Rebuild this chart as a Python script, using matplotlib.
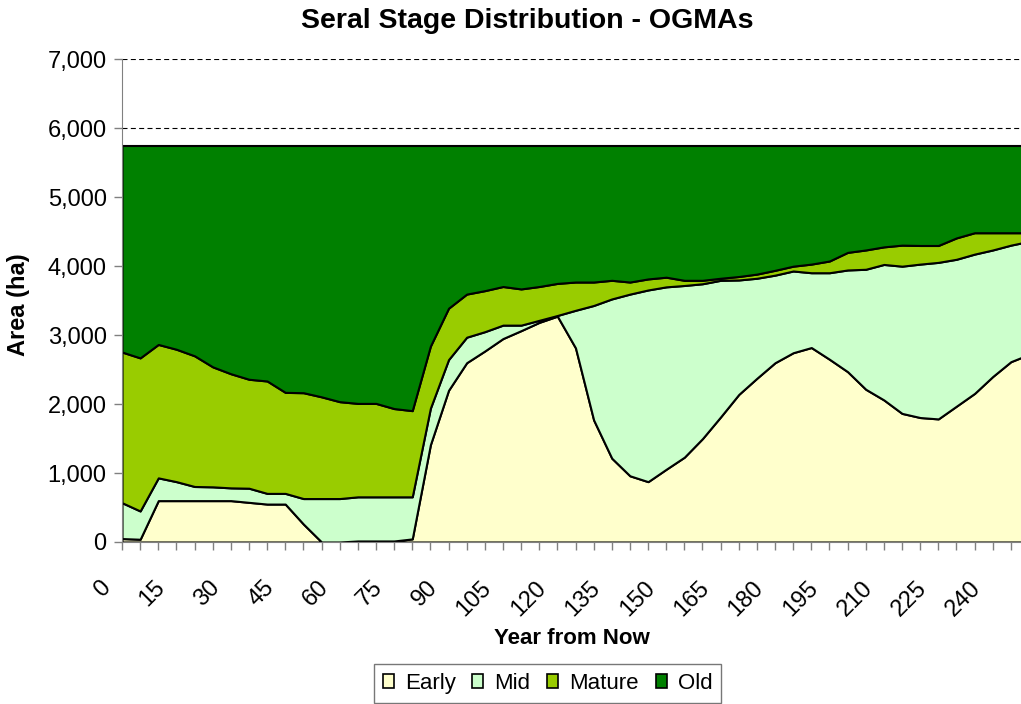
import numpy as np
import matplotlib
matplotlib.use("Agg")
import matplotlib.pyplot as plt
from matplotlib.patches import Patch
from matplotlib.ticker import FuncFormatter, MultipleLocator
from matplotlib.transforms import ScaledTranslation

plt.rcParams['font.family'] = ['Liberation Sans', 'DejaVu Sans']

# years from now, one value every 5 years
years = list(range(0, 255, 5))

early = [50, 40, 600, 600, 600, 600, 600, 575, 550, 550,
         260, 0, 0, 15, 15, 15, 45, 1410, 2200, 2600,
         2770, 2950, 3065, 3185, 3275, 2815, 1770, 1215, 960, 875,
         1055, 1230, 1500, 1815, 2140, 2375, 2600, 2745, 2820, 2650,
         2470, 2215, 2060, 1865, 1805, 1785, 1970, 2155, 2400, 2615,
         2720]
mid = [520, 410, 330, 275, 205, 200, 185, 205, 155, 155,
       370, 630, 630, 640, 640, 640, 610, 530, 445, 370,
       280, 195, 80, 30, 10, 545, 1660, 2310, 2635, 2780,
       2645, 2490, 2245, 1980, 1660, 1450, 1270, 1185, 1085, 1255,
       1475, 1740, 1965, 2135, 2225, 2270, 2130, 2020, 1835, 1690,
       1640]
mature = [2185, 2220, 1935, 1920, 1895, 1740, 1655, 1580, 1630, 1465,
          1535, 1475, 1405, 1355, 1355, 1280, 1250, 900, 745, 625,
          595, 560, 525, 490, 465, 410, 340, 270, 175, 160,
          140, 75, 50, 30, 50, 60, 70, 70, 125, 170,
          255, 280, 255, 305, 270, 245, 310, 310, 250, 180,
          125]
old = [2995, 3080, 2885, 2955, 3050, 3210, 3310, 3390, 3415, 3580,
       3585, 3645, 3715, 3740, 3740, 3815, 3845, 2910, 2360, 2155,
       2105, 2045, 2080, 2045, 2000, 1980, 1980, 1955, 1980, 1935,
       1910, 1955, 1955, 1925, 1900, 1865, 1810, 1750, 1720, 1675,
       1550, 1515, 1470, 1445, 1450, 1450, 1340, 1265, 1265, 1265,
       1265]

names = ['Early', 'Mid', 'Mature', 'Old']
colors = ['#FFFFCC', '#CCFFCC', '#99CC00', '#008000']

W, H = 1021, 704
fig = plt.figure(figsize=(W / 100, H / 100), dpi=100)
# plot area runs a little past the right edge of the picture (cropped original)
ax = fig.add_axes([122 / W, (H - 542) / H, 907 / W, (542 - 59.3) / H])

x = np.array(years)
base = np.zeros(len(x))
for vals, c in zip([early, mid, mature, old], colors):
    top = base + np.array(vals)
    ax.fill_between(x, base, top, facecolor=c, edgecolor='black', linewidth=1.5, zorder=2)
    base = top

ax.set_xlim(0, 250)
ax.set_ylim(0, 7000)
ax.yaxis.set_major_locator(MultipleLocator(1000))
ax.yaxis.set_major_formatter(FuncFormatter(lambda v, p: '{:,.0f}'.format(v)))
ax.grid(axis='y', color='black', linewidth=0.8, linestyle=(0, (4.5, 3)), zorder=0)
ax.set_axisbelow(True)

ax.set_xticks(list(range(0, 250, 15)))
ax.set_xticks(years, minor=True)
ax.tick_params(axis='x', which='both', direction='out', length=6, color='#808080', width=1)
ax.tick_params(axis='x', which='major', pad=19, labelsize=17)
ax.tick_params(axis='y', direction='out', length=6, color='#808080', width=1, labelsize=17, pad=5)
for lbl in ax.get_xticklabels():
    lbl.set_rotation(45)
    lbl.set_ha('right')
    lbl.set_va('top')
    lbl.set_transform(lbl.get_transform() + ScaledTranslation(-0.07, 0, fig.dpi_scale_trans))

for s in ['top', 'right']:
    ax.spines[s].set_visible(False)
ax.spines['left'].set_color('#808080')
ax.spines['bottom'].set_color('#808080')

fig.text(527 / W, 1 - 21 / H, 'Seral Stage Distribution - OGMAs', ha='center', va='center',
         fontsize=20.5, fontweight='bold')
fig.text(18 / W, 1 - 305 / H, 'Area (ha)', ha='center', va='center', rotation=90,
         fontsize=17, fontweight='bold')
fig.text(572 / W, 1 - 639 / H, 'Year from Now', ha='center', va='center',
         fontsize=16, fontweight='bold')

handles = [Patch(facecolor=c, edgecolor='black', linewidth=1.2) for c in colors]
leg = fig.legend(handles, names, loc='upper center', bbox_to_anchor=(547.5 / W, 1 - 664 / H),
                 ncol=4, fontsize=16, frameon=True, fancybox=False, handlelength=0.5,
                 handleheight=0.6, handletextpad=0.5, columnspacing=0.75, borderpad=0.4,
                 borderaxespad=0)
leg.get_frame().set_edgecolor('#555555')
leg.get_frame().set_linewidth(1)

fig.savefig('out.png', dpi=100)
